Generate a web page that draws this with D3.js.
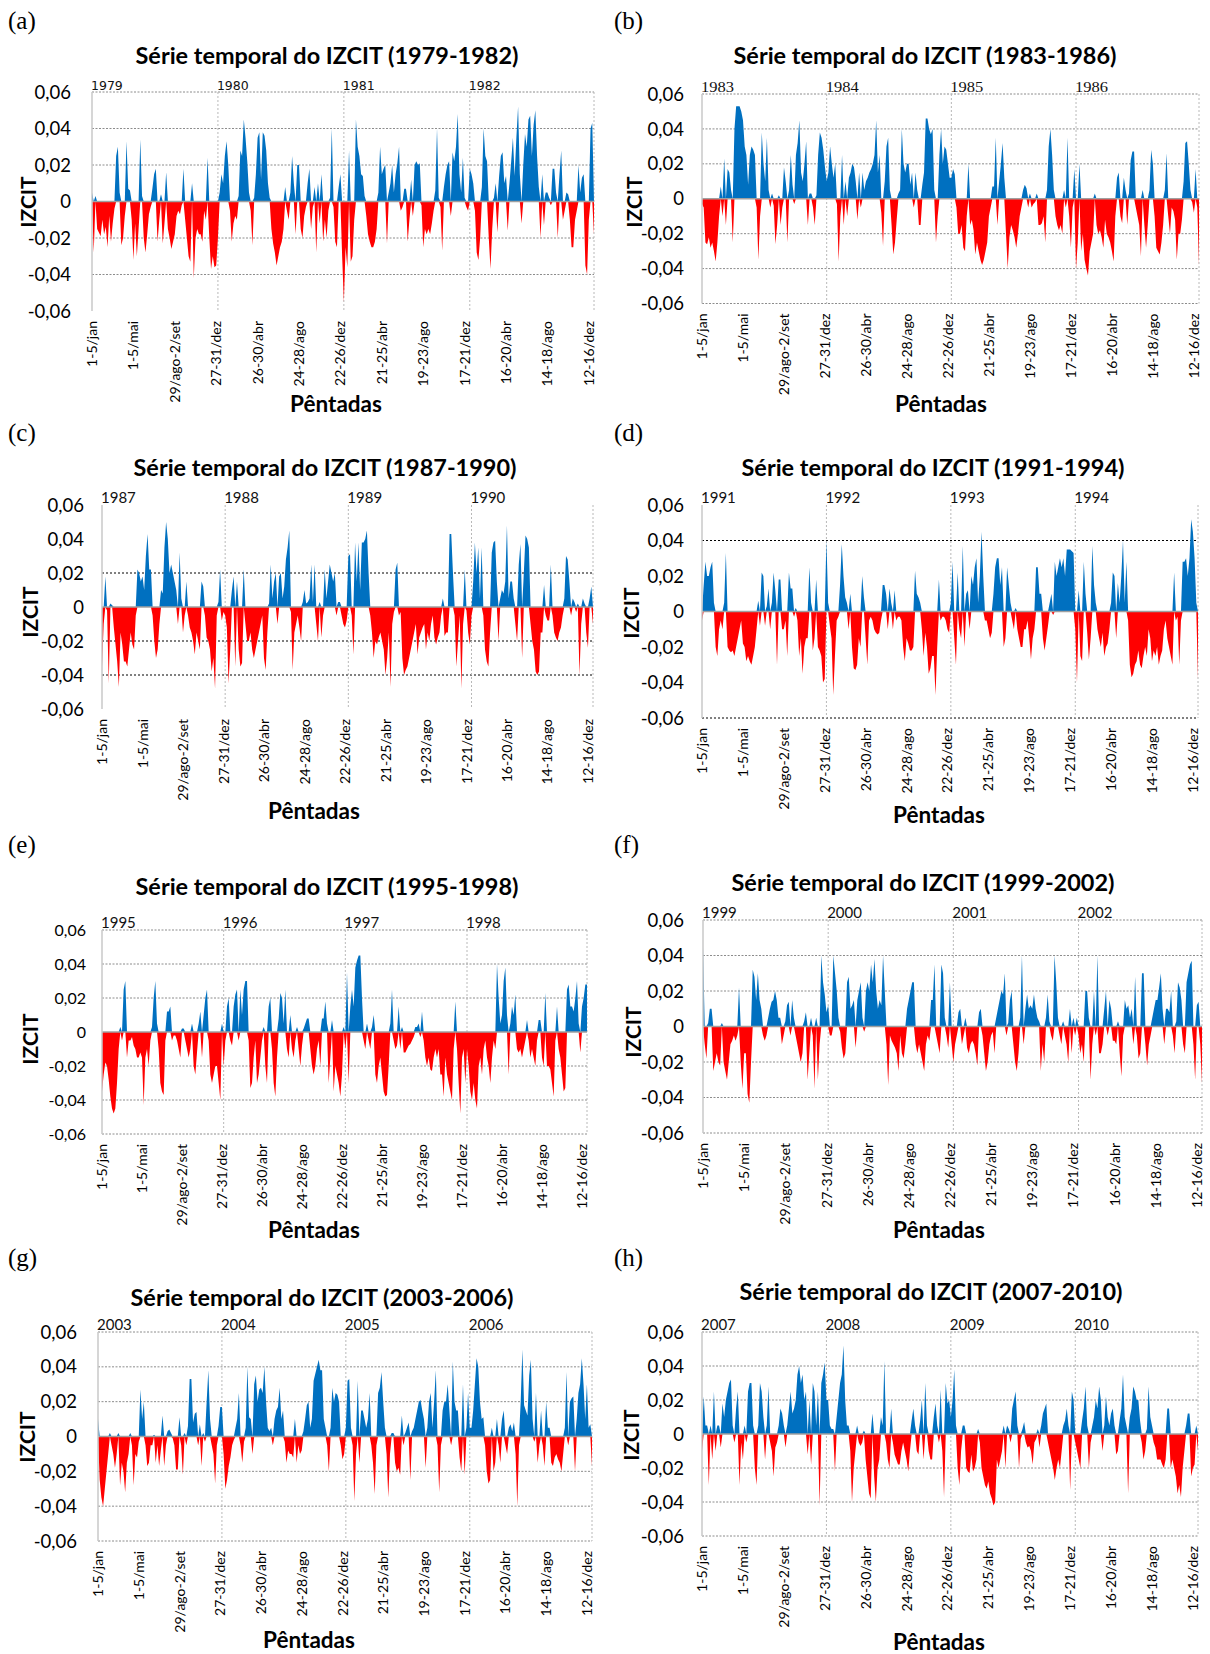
<!DOCTYPE html>
<html><head><meta charset="utf-8">
<script src="https://cdn.jsdelivr.net/npm/d3@7"></script>
<style>
html,body{margin:0;padding:0;background:#fff;}
svg{display:block;}
</style></head><body>
<svg id="fig" width="1210" height="1654"></svg>
<script>
// IZCIT pentad series, 73 pentads per year, four years per panel
const izcit_1979_1982 = [
.005,-.028,.003,-.015,-.017,-.019,-.010,-.018,-.014,-.025,-.008,-.022,-.012,-.004,.025,.030,.005,-.024,-.020,-.008,.033,.007,.006,-.010,-.032,-.012,-.030,-.015,.034,.003,-.020,-.028,-.018,-.007,-.003,.007,.015,.018,-.022,-.010,.004,-.023,-.012,.016,-.015,-.020,-.026,-.022,-.018,-.008,-.005,-.007,-.002,.018,-.010,-.020,-.030,-.033,.010,-.042,-.020,-.015,-.018,-.018,-.022,-.005,-.010,.024,-.020,-.037,-.030,-.036,-.035,
-.020,.005,.015,.010,.025,.033,.020,-.005,-.022,-.012,-.008,-.010,.003,.028,.025,.045,.035,.022,.005,-.005,-.024,.002,.015,.035,.038,.012,.038,.036,.028,.010,.002,-.015,-.023,-.028,-.035,-.030,-.025,-.022,-.015,.008,-.005,-.010,.005,.025,.010,-.018,.020,.020,-.015,-.020,-.008,-.003,.010,.018,-.015,-.003,.008,-.028,.010,-.012,.015,-.022,-.010,-.020,-.005,.002,.040,-.003,-.022,-.025,.008,.015,-.030,
-.055,-.025,-.036,.028,-.033,-.030,-.010,.045,.030,.025,.015,.014,.003,-.008,-.018,-.022,-.025,-.025,-.022,-.015,.005,.030,.015,.018,.020,-.023,.005,.010,.020,.005,.015,.021,.030,-.005,-.003,.007,.007,-.022,-.010,.012,-.008,.020,.022,.020,.021,-.002,-.025,-.015,-.018,-.015,-.018,-.012,-.005,.006,.040,.002,-.003,-.027,.008,.015,.020,.022,-.008,.027,.022,.030,.048,.015,.005,.024,.002,-.003,-.005,
.018,.015,.010,-.005,-.028,-.032,-.020,.008,.040,.025,.022,-.020,-.037,-.015,.002,.010,-.017,.014,.025,.027,.010,.014,-.016,.010,.022,.035,.014,.035,.052,.015,-.012,.020,.037,.030,.045,.047,.025,.042,.050,.025,.008,-.020,.015,-.013,.005,.005,.002,-.002,.018,.018,.005,-.020,.015,.028,-.010,-.005,.005,.004,-.010,-.025,-.025,-.010,-.005,.020,.005,.013,.015,-.035,-.040,-.010,.040,.043,-.018
];
const izcit_1983_1986 = [
-.003,-.005,-.025,-.026,-.022,-.028,-.025,-.030,-.036,-.025,-.010,.007,-.010,.023,-.015,.017,.015,.005,-.025,.040,.053,.053,.053,.050,.045,.030,.025,.008,.025,.030,.028,.025,-.005,-.035,-.010,.038,.020,.010,.035,.005,-.005,.003,-.004,-.026,-.015,.002,-.015,-.005,.018,.010,-.025,.005,.025,.008,-.003,.025,.032,.045,.015,.010,.020,.033,-.015,.003,.003,-.005,-.015,.002,.025,.038,.035,.028,.018,
.010,.015,.030,.020,.012,.020,-.003,-.036,-.010,.025,-.015,.010,-.010,.012,.015,.020,.018,.010,-.012,.015,-.005,.015,.005,.010,.012,.015,.017,.020,.025,.045,.015,.025,-.008,-.027,.010,.030,.035,.005,-.015,-.032,-.025,-.012,.003,.005,.040,.020,.015,.020,.020,.008,.015,-.005,.015,.005,-.015,-.015,.008,.015,.046,.046,.040,.037,.040,.005,-.025,-.010,.025,.040,.020,.030,.028,.020,.012,
.012,.017,.014,-.005,-.020,-.020,-.015,-.028,-.030,-.010,.020,-.015,-.012,-.018,-.032,-.025,-.030,-.035,-.038,-.035,-.030,-.025,-.010,-.005,.007,.007,.035,-.015,.010,.020,.032,.012,-.020,-.040,-.022,-.015,-.018,-.022,-.028,-.020,-.010,-.005,.005,.008,.006,-.005,.003,-.005,-.003,-.002,.003,-.015,-.015,-.014,-.010,-.025,.005,.030,.040,.025,.005,-.010,-.015,-.018,-.015,-.020,.005,-.005,.035,-.010,-.028,-.005,.017,
-.040,-.025,.020,-.030,-.020,-.035,-.040,-.044,-.030,-.025,-.020,.003,-.015,-.020,-.018,-.022,-.028,-.012,-.020,-.022,-.025,-.030,-.036,-.010,.012,.015,-.010,-.014,.012,.005,-.015,.003,.022,.027,.027,-.005,-.010,-.015,-.033,.005,-.015,-.028,-.015,.005,.028,.020,-.010,-.028,-.030,-.032,-.025,-.015,.005,.026,-.010,-.020,-.005,-.007,-.012,-.035,-.020,-.020,-.012,.010,.032,.033,.020,.005,-.002,-.008,.017,-.005,-.038
];
const izcit_1987_1990 = [
-.035,-.010,.018,-.002,-.045,.002,.001,-.012,-.022,-.032,-.047,-.015,-.022,-.032,-.032,-.035,-.025,-.015,-.022,-.025,-.005,.022,.020,.015,.018,.010,.030,.043,.022,.022,-.005,-.020,-.030,-.025,-.010,.010,.008,.035,.050,.040,.020,.025,.020,.015,.010,-.010,.032,.005,-.015,-.005,.015,-.005,-.012,-.015,-.020,-.028,-.015,-.020,-.025,.015,.012,-.005,-.018,-.020,-.025,-.038,-.030,-.048,-.005,.003,.022,-.008,-.003,
-.005,-.012,-.045,-.025,.010,.018,-.035,.015,-.025,-.035,-.033,.022,-.010,-.020,-.020,-.015,-.025,-.030,-.025,-.020,-.015,-.010,-.005,-.030,-.037,-.015,.002,.025,.005,.015,.020,-.010,.018,.020,.005,.012,.028,.035,.045,-.003,-.037,-.015,-.010,-.005,-.012,-.020,.003,.010,.002,.003,.005,.025,.003,.025,-.010,-.020,.003,-.018,-.005,.022,.005,.015,.025,.020,.015,.020,-.005,.003,.003,-.005,-.010,-.012,-.008,
.030,.031,-.005,-.028,.038,.015,.038,.010,.038,.038,.040,.045,.020,-.005,-.015,-.030,-.020,-.022,-.018,-.015,-.020,-.025,-.040,-.030,-.015,-.047,-.010,-.003,.022,.026,-.005,-.003,-.030,-.040,-.037,-.035,-.030,-.025,-.020,-.015,-.010,-.028,-.018,-.015,-.012,-.010,-.025,-.015,-.020,-.010,-.005,-.018,-.022,-.018,-.015,-.005,.005,-.017,-.015,-.015,.043,.043,.020,-.005,-.035,-.020,-.005,-.048,-.010,.022,-.002,-.015,-.022,
-.005,.015,.038,.020,.035,.005,.035,-.005,-.025,-.032,-.035,-.015,.032,.038,.039,.015,-.020,.005,.010,.008,.015,.048,.005,.015,.015,.005,-.010,-.020,.025,.037,-.030,.020,.042,.040,.035,-.010,-.020,-.025,-.038,-.040,-.038,-.015,-.015,.013,-.005,-.008,-.008,.025,-.005,-.015,-.018,-.020,-.015,-.012,-.005,.005,.030,.028,.015,-.005,.005,.003,-.003,.002,-.040,-.010,.005,.002,-.015,-.024,.005,.012,-.010
];
const izcit_1991_1994 = [
-.005,.015,.028,.020,.020,.025,.028,.005,-.020,-.025,-.010,-.005,-.010,.005,.033,-.020,-.022,-.023,-.022,-.025,-.020,-.015,-.010,-.005,-.018,-.020,-.028,-.025,-.028,-.030,-.025,-.020,-.010,.006,-.008,.022,.020,-.008,.003,.013,-.010,.005,.022,.012,-.030,.018,.018,-.010,-.010,-.005,-.025,.022,.013,.013,-.003,.002,-.005,-.025,-.015,-.035,-.020,-.015,-.015,.025,.005,-.022,-.015,.018,-.020,-.022,-.025,-.040,-.038,
.040,.005,-.008,-.015,-.047,-.025,-.005,-.003,.015,.038,.020,.008,.005,-.010,.010,-.020,-.032,-.033,-.030,-.015,-.020,.020,.008,-.015,-.030,-.005,-.003,-.005,-.010,-.012,-.013,-.012,-.005,.015,.015,.010,-.010,.013,.005,-.010,.012,-.005,-.003,-.003,-.005,-.020,-.028,-.015,-.018,-.022,-.022,-.020,.023,.010,.008,.005,-.010,-.025,-.012,-.020,-.035,-.032,-.025,-.025,-.047,-.020,.018,-.005,-.003,-.003,-.005,-.010,-.012,
.005,.028,-.015,-.030,.022,-.010,-.015,.037,-.020,.010,.012,-.010,.020,.015,.025,.030,.005,.020,.045,.020,-.005,-.005,-.010,-.015,-.012,.010,.025,.030,.030,.015,.025,-.020,-.015,.025,.015,.005,-.005,-.010,.002,-.010,-.015,-.020,-.020,-.010,-.010,-.005,-.015,-.027,-.015,-.010,.025,.025,.010,.010,-.015,-.022,-.015,-.008,.005,.010,-.002,.028,.020,.025,.030,.025,.030,.020,.035,.035,.035,.034,.033,
-.010,-.040,.012,-.025,-.028,.028,.010,-.012,-.027,-.015,.037,.015,.005,-.010,-.015,-.020,-.012,-.025,-.020,-.018,-.010,.005,.022,.020,-.015,.016,.005,.020,.040,.005,.028,-.005,-.030,-.037,-.035,-.030,-.028,-.022,-.030,-.032,-.025,-.020,-.025,-.010,-.015,-.028,-.022,-.025,-.020,-.030,-.025,-.022,-.010,-.005,-.015,-.020,-.025,-.030,.022,-.005,-.003,-.030,-.005,.028,.028,.030,.020,.030,.052,.045,.030,.005,-.038
];
const izcit_1995_1998 = [
-.035,-.025,-.018,-.020,-.028,-.038,-.045,-.048,-.045,-.030,-.010,.003,-.005,.025,.030,-.015,-.005,-.005,-.003,-.008,-.010,-.015,-.015,-.012,-.015,-.043,-.015,-.010,-.020,-.005,.003,.020,.030,.005,-.010,-.030,-.035,-.037,-.005,.012,.012,.015,-.005,-.002,-.002,-.005,-.010,-.015,.002,.002,-.005,-.010,-.015,-.010,.005,-.020,-.025,-.012,.005,.012,-.015,.010,.020,.025,-.005,-.025,-.030,-.025,-.020,-.020,-.030,-.040,.005,
-.020,-.005,.015,.020,-.005,-.008,.015,.022,.025,-.005,.025,.010,.025,.030,.030,-.005,-.033,-.030,-.015,-.005,-.030,-.025,-.015,-.005,.003,-.020,-.030,.015,.020,-.010,-.030,-.038,-.015,.008,.023,.020,.005,.025,-.010,-.015,.010,-.010,-.015,-.005,.003,-.010,-.020,-.008,.002,.005,.008,.008,-.010,-.020,-.025,-.020,-.010,-.005,-.020,.008,.008,.018,.005,-.030,-.015,.007,-.035,-.020,-.025,-.030,-.038,-.025,.003,
-.010,.035,-.030,.015,.025,.015,.038,.042,.045,.045,.020,-.005,-.010,.005,-.005,-.010,.003,.010,-.025,-.030,-.020,-.015,-.025,-.035,-.038,-.037,-.020,.005,.025,-.005,-.010,-.008,.015,-.010,.003,-.012,-.012,-.010,-.008,-.007,-.005,-.003,.003,.003,.005,-.003,.012,-.005,-.015,-.020,-.015,-.022,-.023,-.015,-.010,-.015,-.010,-.025,-.025,-.038,-.015,-.025,-.030,-.035,-.040,-.010,.018,-.010,-.030,-.048,-.015,-.010,-.030,
-.010,-.020,-.035,-.040,-.030,-.040,-.045,-.020,-.015,-.025,-.010,-.005,-.015,-.020,-.030,-.015,-.005,-.010,.040,.020,.005,.010,.030,.038,.010,-.025,.005,.015,.010,.022,-.010,-.012,-.010,-.015,-.010,-.005,.007,-.005,-.015,-.010,-.015,-.020,-.005,.007,.007,-.015,-.020,.023,-.020,-.020,-.022,-.030,-.038,-.005,.015,-.010,-.015,-.025,-.035,-.033,.025,.028,.015,.015,.012,.020,.030,.005,-.012,.015,.020,.028,.028
];
const izcit_1999_2002 = [
.045,-.010,-.018,.002,.010,.010,-.025,-.020,-.015,-.020,-.022,.002,-.020,-.025,-.030,-.020,-.010,-.008,-.005,-.008,-.005,.022,-.020,-.035,-.015,-.015,-.038,-.043,-.020,.032,.028,.015,.030,.015,.010,-.005,-.008,-.005,.005,.010,.014,.015,.020,.015,.005,.005,-.010,-.005,.003,.012,.014,-.005,.015,.005,-.005,-.010,-.015,-.020,-.015,.003,.008,-.030,-.015,.005,-.005,-.035,.005,-.030,-.010,.040,.025,.018,.008,
.012,-.005,-.005,.040,.030,.020,.005,-.003,-.012,-.018,-.015,.025,.028,.010,.012,.015,-.012,.015,.020,.025,.005,-.003,.020,.025,.020,.035,.025,.038,.020,.010,.015,.012,.040,.020,-.010,-.033,-.005,-.008,-.010,-.012,-.015,-.025,-.005,-.015,-.018,-.010,.010,.015,.020,.025,.025,-.010,-.015,-.010,-.015,-.020,-.025,-.010,-.005,-.008,.015,.015,.035,-.005,-.010,-.015,.035,.030,.005,-.005,-.012,.025,-.010,
-.020,-.010,-.005,.008,.010,-.010,-.005,.005,-.012,-.015,-.010,-.008,-.010,-.015,-.022,.008,.010,-.005,-.015,-.025,-.020,-.010,-.005,-.003,-.015,.005,.010,.015,.020,.018,.030,-.005,.002,.015,.020,-.010,-.020,-.025,-.015,.005,.040,-.010,.010,.018,.010,.012,.010,.018,.010,.005,.003,-.025,-.010,-.020,.005,.018,.003,-.005,-.008,.040,.025,.005,-.005,-.010,.003,-.005,-.010,-.020,.010,-.015,.005,-.005,.005,
-.005,-.015,-.010,-.020,.020,.020,.005,-.030,-.010,.020,-.005,.040,-.015,-.015,-.010,.010,.020,-.005,.015,.010,-.008,-.008,-.010,.003,-.015,-.028,-.005,.015,.010,.012,.005,.010,-.010,.028,-.005,-.018,-.015,.030,.030,-.010,-.022,-.010,-.005,.005,.010,.015,.015,.022,.030,.010,-.010,.010,.010,.008,.020,-.005,-.015,.003,.025,.022,.015,-.010,-.015,.025,.030,.035,.037,-.010,-.030,.012,.014,-.010,-.032
];
const izcit_2003_2006 = [
.010,-.025,-.035,-.040,-.030,-.020,-.010,.002,-.005,-.010,-.018,-.010,.002,-.028,-.015,-.020,-.032,-.015,-.010,.002,-.005,-.028,-.010,-.012,-.003,.027,.010,.020,-.005,-.017,-.015,-.005,-.005,.001,-.015,-.005,-.017,-.008,.012,-.017,-.005,.003,.004,.002,-.001,-.005,-.019,-.019,.011,-.005,-.022,.002,-.005,.006,.033,.033,.008,.013,.014,-.005,.007,-.017,.002,-.003,.020,.038,.010,-.005,-.010,-.027,-.005,.006,.017,
.017,-.010,-.030,-.025,-.017,-.012,-.005,-.002,.005,.010,.025,-.005,-.015,-.003,.005,.040,.011,.010,-.010,.030,.035,.020,.027,.028,.025,.040,.020,.005,.003,.005,-.005,.010,.015,.017,.028,.010,.015,-.003,-.015,-.008,-.010,-.010,-.012,.010,-.015,-.005,-.010,-.008,.003,.010,.018,.020,.005,.010,.032,.036,.040,.044,.038,.038,.010,.005,-.005,-.020,.005,.028,.020,.025,.024,.020,-.005,-.013,-.010,
.005,.032,.033,.005,-.005,-.037,-.010,.032,-.015,.015,.015,.010,.005,.010,.025,-.005,-.015,-.033,-.005,.025,.028,.037,.020,.005,-.010,-.035,-.010,.002,.002,-.015,-.020,-.018,-.022,.012,-.005,.002,.005,.008,-.025,.003,.005,.010,.015,.020,.021,.015,.010,-.018,.005,.020,.025,.005,.020,.038,-.005,-.032,-.005,.015,.020,.020,.030,.015,-.005,.043,.020,.015,.015,-.012,-.020,.030,-.022,.005,.025,
.005,.005,.015,.030,.045,.040,.020,.010,.011,-.005,-.020,-.027,-.025,.005,-.020,-.015,.010,-.005,-.015,.010,.015,-.005,-.010,.005,.007,.003,.008,-.010,-.040,-.005,.020,.050,.018,.015,.012,.035,.044,.010,-.003,.025,-.015,-.005,.015,-.005,-.017,.020,.005,.005,-.015,-.017,-.012,-.010,-.013,-.015,-.020,-.010,.005,.037,-.005,.020,.022,.023,-.020,.010,.025,.030,.045,.030,.010,.030,.005,.007,-.017
];
const izcit_2007_2010 = [
-.010,.022,.005,.005,-.030,.005,-.015,.025,-.010,.005,.005,-.008,.018,.010,.020,.025,.030,.032,.005,-.005,.015,.025,-.030,-.005,-.015,.005,-.005,.025,.030,.030,.005,-.020,-.030,.005,.030,.025,.010,-.015,.005,.028,-.005,-.010,-.025,-.008,-.005,.005,.015,.012,.005,-.008,.005,.015,.025,.012,.015,.020,.035,.040,.030,.035,.020,.025,-.012,.020,-.018,.030,.025,.005,.025,-.042,.030,.035,.042,
.020,.020,.005,.003,.003,-.022,.010,.020,.030,.035,.052,.020,.005,.005,-.010,-.040,-.020,-.010,.005,-.005,-.007,-.005,.002,-.015,-.025,-.035,-.038,.012,-.025,-.040,-.020,-.015,.010,.005,.043,-.005,-.015,-.020,.015,-.005,-.012,-.015,-.018,-.018,-.010,-.005,-.010,-.015,-.022,-.010,.008,.015,.005,-.010,-.012,.008,.020,-.015,.030,.005,-.010,-.015,-.015,.010,.018,.005,-.005,.026,-.010,-.037,.030,.018,.020,
.010,.020,.038,.005,-.020,-.030,-.010,.005,.005,-.020,-.022,-.023,-.012,-.022,-.020,-.015,.003,-.005,-.020,-.025,-.030,-.032,-.028,-.035,-.038,-.042,-.040,-.015,-.020,-.015,-.010,.005,-.020,.005,.003,-.005,.015,.020,.025,.005,-.020,-.003,.003,.007,-.005,-.008,-.007,-.010,-.018,-.005,-.003,.003,-.008,.005,.012,.015,.018,-.005,-.010,-.015,-.020,-.027,-.020,-.015,-.020,-.010,.005,.008,.015,.005,-.033,.025,.020,
-.005,-.010,-.015,-.020,.008,.015,.028,.005,-.020,-.005,.005,.010,.020,.015,.028,.020,-.010,.005,.022,.010,.005,.012,.015,.005,-.012,-.010,.008,.015,.035,.010,.005,-.035,.010,.015,.028,.025,.020,.020,.008,-.005,-.015,-.010,.003,.028,.010,.005,-.005,-.008,-.015,-.015,-.015,-.018,-.020,-.015,.015,.015,-.020,-.015,-.020,-.025,-.035,-.030,-.037,-.020,-.010,.005,.012,.012,-.025,-.020,-.018,.005,-.010
];

// year labels drawn above each year block
const years_1979_1982 = ["1979","1980","1981","1982"];
const years_1983_1986 = ["1983","1984","1985","1986"];
const years_1987_1990 = ["1987","1988","1989","1990"];
const years_1991_1994 = ["1991","1992","1993","1994"];
const years_1995_1998 = ["1995","1996","1997","1998"];
const years_1999_2002 = ["1999","2000","2001","2002"];
const years_2003_2006 = ["2003","2004","2005","2006"];
const years_2007_2010 = ["2007","2008","2009","2010"];

const panelTitles = [
  "Série temporal do IZCIT (1979-1982)","Série temporal do IZCIT (1983-1986)",
  "Série temporal do IZCIT (1987-1990)","Série temporal do IZCIT (1991-1994)",
  "Série temporal do IZCIT (1995-1998)","Série temporal do IZCIT (1999-2002)",
  "Série temporal do IZCIT (2003-2006)","Série temporal do IZCIT (2007-2010)"
];
const panelLetters = ["(a)","(b)","(c)","(d)","(e)","(f)","(g)","(h)"];

// category axis: a label every 24 pentads
const pentadTickLabels = ["1-5/jan","1-5/mai","29/ago-2/set","27-31/dez","26-30/abr","24-28/ago",
  "22-26/dez","21-25/abr","19-23/ago","17-21/dez","16-20/abr","14-18/ago","12-16/dez"];
const pentadTickIndex = [0,24,48,72,96,120,144,168,192,216,240,264,288];
const yearStartIndex = [0,73,146,219];
const valueTicks = [0.06,0.04,0.02,0,-0.02,-0.04,-0.06];

const BLUE = "#0070c0", RED = "#ff0000";
const SANS = "Lato, 'Open Sans', sans-serif";

const allGrid = [0.06,0.04,0.02,-0.02,-0.04,-0.06];
const panels = [
  {data:izcit_1979_1982, years:years_1979_1982, x0:92, x1:594, yTop:92, yBot:311,
   lx:8, ly:29, tx:327, ty:64, iz:[28,202], pt:[336,412], tickR:71, tickFs:18.5,
   grid:[0.06,0.04,0.02,-0.02,-0.04], gridColor:"#8c8c8c", yearFont:"'DejaVu Sans', sans-serif", yearFs:12.5},
  {data:izcit_1983_1986, years:years_1983_1986, x0:702, x1:1199, yTop:94, yBot:303.5,
   lx:614, ly:29, tx:925, ty:64, iz:[634,202], pt:[941,412], tickR:684, tickFs:18.5,
   grid:allGrid, gridColor:"#8c8c8c", yearFont:"'Liberation Serif', serif", yearFs:15, yearLen:33},
  {data:izcit_1987_1990, years:years_1987_1990, x0:102, x1:593, yTop:505, yBot:709,
   lx:8, ly:441, tx:325, ty:476, iz:[30,612], pt:[314,819], tickR:84, tickFs:18.5,
   grid:[0.02,-0.02,-0.04], gridColor:"#000", yearFont:SANS, yearFs:15},
  {data:izcit_1991_1994, years:years_1991_1994, x0:702, x1:1198, yTop:505, yBot:718,
   lx:614, ly:441, tx:933, ty:476, iz:[631,613], pt:[939,823], tickR:684, tickFs:18.5,
   grid:[0.04,-0.06], gridColor:"#000", yearFont:SANS, yearFs:15},
  {data:izcit_1995_1998, years:years_1995_1998, x0:102, x1:587, yTop:930, yBot:1134,
   lx:8, ly:853, tx:327, ty:895, iz:[30,1039], pt:[314,1238], tickR:86, tickFs:16,
   grid:allGrid, gridColor:"#8c8c8c", yearFont:SANS, yearFs:15},
  {data:izcit_1999_2002, years:years_1999_2002, x0:703, x1:1202, yTop:920, yBot:1133,
   lx:614, ly:853, tx:923, ty:891, iz:[633,1032], pt:[939,1238], tickR:684, tickFs:18.5,
   grid:allGrid, gridColor:"#8c8c8c", yearFont:SANS, yearFs:15},
  {data:izcit_2003_2006, years:years_2003_2006, x0:98, x1:592, yTop:1332, yBot:1541,
   lx:8, ly:1266, tx:322, ty:1306, iz:[27,1437], pt:[309,1648], tickR:77, tickFs:18.5,
   grid:allGrid, gridColor:"#8c8c8c", yearFont:SANS, yearFs:15},
  {data:izcit_2007_2010, years:years_2007_2010, x0:702, x1:1198, yTop:1332, yBot:1536,
   lx:614, ly:1266, tx:931, ty:1300, iz:[631,1435], pt:[939,1650], tickR:684, tickFs:18.5,
   grid:allGrid, gridColor:"#8c8c8c", yearFont:SANS, yearFs:15}
];

const loc = d3.formatLocale({decimal:",", thousands:".", grouping:[3], currency:["",""], minus:"-"});
const fmt = loc.format(".2f");
const tickText = v => v === 0 ? "0" : fmt(v);

const svg = d3.select("#fig");

// shrink or grow a text's font so it spans the given width
function fitWidth(sel, width) {
  const node = sel.node();
  const fs = parseFloat(sel.attr("font-size"));
  const w = node.getComputedTextLength();
  if (w > 0) sel.attr("font-size", (fs * width / w).toFixed(2));
}

panels.forEach((p, k) => {
  const g = svg.append("g");
  const n = p.data.length;
  const x = d3.scaleLinear().domain([0, n - 1]).range([p.x0, p.x1]);
  const y = d3.scaleLinear().domain([-0.06, 0.06]).range([p.yBot, p.yTop]);

  // panel letter
  g.append("text").attr("x", p.lx).attr("y", p.ly)
    .attr("font-family", "'Liberation Serif', 'Times New Roman', serif")
    .attr("font-size", 25).attr("fill", "#000").text(panelLetters[k]);

  // title
  const t = g.append("text").attr("x", p.tx).attr("y", p.ty).attr("text-anchor", "middle")
    .attr("font-family", SANS).attr("font-weight", 700).attr("font-size", 21)
    .attr("fill", "#000").text(panelTitles[k]);
  fitWidth(t, 383);

  // horizontal dotted gridlines
  g.append("g").selectAll("line").data(p.grid).join("line")
    .attr("x1", p.x0).attr("x2", p.x1)
    .attr("y1", d => y(d)).attr("y2", d => y(d))
    .attr("stroke", p.gridColor).attr("stroke-width", 1)
    .attr("stroke-dasharray", p.gridColor === "#000" ? "2,2" : "2,1.5");

  // vertical dotted year separators and right border
  const vIdx = yearStartIndex.slice(1);
  g.append("g").selectAll("line").data(vIdx).join("line")
    .attr("x1", d => x(d)).attr("x2", d => x(d))
    .attr("y1", p.yTop).attr("y2", p.yBot)
    .attr("stroke", "#b8b8b8").attr("stroke-width", 1).attr("stroke-dasharray", "2,2");
  g.append("line").attr("x1", p.x1).attr("x2", p.x1).attr("y1", p.yTop).attr("y2", p.yBot)
    .attr("stroke", "#b8b8b8").attr("stroke-width", 1).attr("stroke-dasharray", "2,2");

  // areas above and below zero
  const posArea = d3.area().x((d, i) => x(i)).y0(y(0)).y1(d => y(Math.max(d, 0)));
  const negArea = d3.area().x((d, i) => x(i)).y0(y(0)).y1(d => y(Math.min(d, 0)));
  g.append("path").datum(p.data).attr("d", posArea).attr("fill", BLUE);
  g.append("path").datum(p.data).attr("d", negArea).attr("fill", RED);

  // zero line and left axis
  g.append("line").attr("x1", p.x0).attr("x2", p.x1).attr("y1", y(0)).attr("y2", y(0))
    .attr("stroke", "#a0a0a0").attr("stroke-width", 1.5);
  g.append("line").attr("x1", p.x0).attr("x2", p.x0).attr("y1", p.yTop).attr("y2", p.yBot)
    .attr("stroke", "#c8c8c8").attr("stroke-width", 1.5);

  // value axis labels
  g.append("g").selectAll("text").data(valueTicks).join("text")
    .attr("x", p.tickR).attr("y", d => y(d)).attr("dy", "0.36em")
    .attr("text-anchor", "end").attr("font-family", SANS).attr("font-size", p.tickFs)
    .attr("fill", "#000").text(tickText);

  // year labels at the top of each year block
  const yl = g.append("g").selectAll("text").data(p.years).join("text")
    .attr("x", (d, i) => x(yearStartIndex[i]) - 1).attr("y", p.yTop - 2)
    .attr("font-family", p.yearFont).attr("font-size", p.yearFs).attr("fill", "#111")
    .text(d => d);
  if (p.yearLen) yl.attr("textLength", p.yearLen).attr("lengthAdjust", "spacingAndGlyphs");

  // rotated pentad labels
  g.append("g").selectAll("text").data(pentadTickLabels).join("text")
    .attr("transform", (d, i) => `translate(${x(pentadTickIndex[i])},${p.yBot + 10}) rotate(-90)`)
    .attr("text-anchor", "end").attr("dy", "0.36em")
    .attr("font-family", SANS).attr("font-size", 14).attr("fill", "#000")
    .text(d => d);

  // axis titles
  g.append("text").attr("transform", `translate(${p.iz[0]},${p.iz[1]}) rotate(-90)`)
    .attr("text-anchor", "middle").attr("dy", "0.36em")
    .attr("font-family", SANS).attr("font-weight", 700).attr("font-size", 21)
    .attr("fill", "#000").text("IZCIT");
  const pe = g.append("text").attr("x", p.pt[0]).attr("y", p.pt[1]).attr("text-anchor", "middle")
    .attr("font-family", SANS).attr("font-weight", 700).attr("font-size", 21)
    .attr("fill", "#000").text("Pêntadas");
  fitWidth(pe, 92);
});
</script>
</body></html>
